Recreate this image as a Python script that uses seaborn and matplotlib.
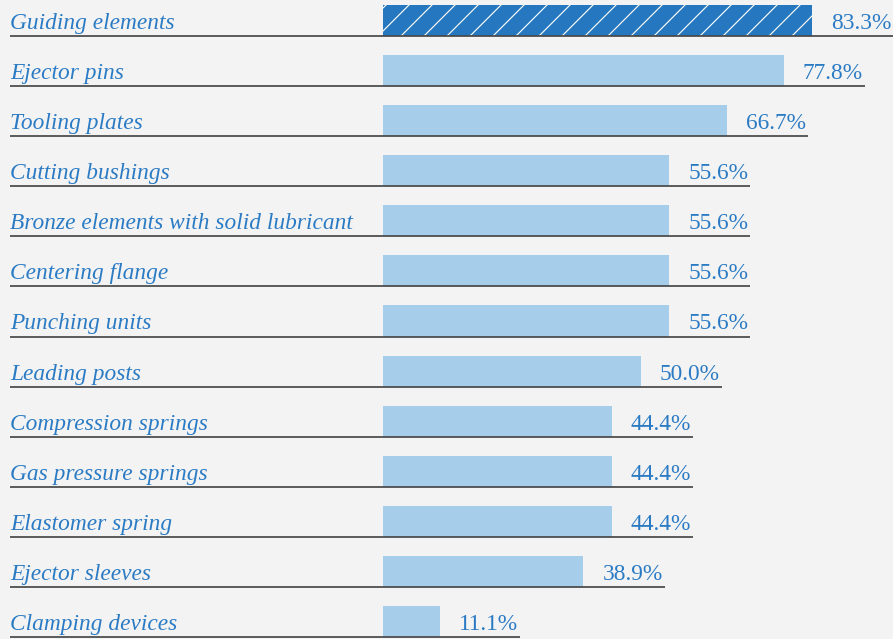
import matplotlib
matplotlib.use("Agg")
import matplotlib.pyplot as plt
import seaborn as sns
import pandas as pd

# Share of respondents naming each standard part
categories = [
    "Guiding elements",
    "Ejector pins",
    "Tooling plates",
    "Cutting bushings",
    "Bronze elements with solid lubricant",
    "Centering flange",
    "Punching units",
    "Leading posts",
    "Compression springs",
    "Gas pressure springs",
    "Elastomer spring",
    "Ejector sleeves",
    "Clamping devices",
]
shares = [83.3, 77.8, 66.7, 55.6, 55.6, 55.6, 55.6, 50.0, 44.4, 44.4, 44.4, 38.9, 11.1]
value_labels = [f"{v:.1f}%" for v in shares]

BG = "#f3f3f3"
DARK = "#2577bf"
LIGHT = "#a6cde9"
TEXT = "#2b7bc4"
RULE = "#474747"

DPI = 138
W_PX, H_PX = 893, 639
PX_PER_PCT = 5.15      # horizontal scale of the bars
ZERO_PX = 383          # where the bars start
ROW_PX = 50.08         # vertical spacing of rows
FIRST_ROW_PX = 20.5    # centre of the first row from the top

sns.set_style("white")
plt.rcParams["hatch.linewidth"] = 0.6

fig = plt.figure(figsize=(W_PX / DPI, H_PX / DPI), dpi=DPI, facecolor=BG)
ax = fig.add_axes([0, 0, 1, 1])
ax.set_facecolor(BG)

df = pd.DataFrame({"item": categories, "share": shares})
palette = [DARK] + [LIGHT] * (len(categories) - 1)
sns.barplot(data=df, x="share", y="item", hue="item", palette=palette,
            legend=False, width=0.62, saturation=1, orient="h",
            linewidth=0, ax=ax)

# highlight the leading item with a white diagonal hatch
lead = ax.patches[0]
lead.set_hatch("//")
lead.set_edgecolor("white")
lead.set_linewidth(0)

ax.set_xlim(-ZERO_PX / PX_PER_PCT, (W_PX - ZERO_PX) / PX_PER_PCT)
top = -FIRST_ROW_PX / ROW_PX
bottom = (H_PX - FIRST_ROW_PX) / ROW_PX
ax.set_ylim(bottom, top)
ax.set_axis_off()

label_x = ax.get_xlim()[0] + 10 / PX_PER_PCT
gap = 19 / PX_PER_PCT
half = 0.31
base_off = 0.14

value_texts = []
for i, (name, v, lab) in enumerate(zip(categories, shares, value_labels)):
    y = i + half - base_off
    ax.text(label_x, y, name, ha="left", va="baseline", color=TEXT,
            fontsize=12.2, family="Liberation Serif", style="italic")
    t = ax.text(v + gap, y, lab, ha="left", va="baseline", color=TEXT,
                fontsize=12.2, family="Liberation Serif")
    value_texts.append(t)

fig.canvas.draw()
renderer = fig.canvas.get_renderer()
inv = ax.transData.inverted()
for i, t in enumerate(value_texts):
    bb = t.get_window_extent(renderer)
    x_end = inv.transform((bb.x1 + 2, 0))[0]
    ax.plot([label_x, x_end], [i + half, i + half], color=RULE, lw=0.9,
            solid_capstyle="butt", zorder=3)

fig.savefig("out.png", dpi=DPI, facecolor=BG)
